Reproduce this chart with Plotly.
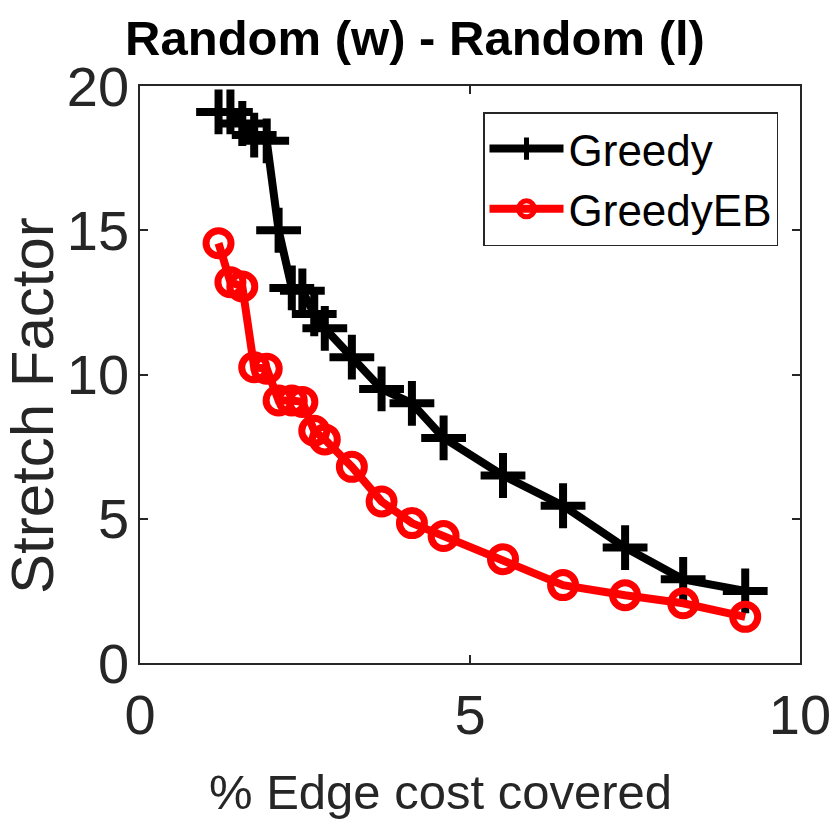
import plotly.graph_objects as go

edge_cost = [1.19, 1.37, 1.55, 1.73, 1.92, 2.10, 2.30, 2.46, 2.64, 2.80, 3.21, 3.66, 4.12, 4.60, 5.50, 6.41, 7.35, 8.23, 9.17]
greedy = [19.1, 19.1, 18.7, 18.3, 18.1, 15.0, 13.0, 12.9, 12.1, 11.6, 10.6, 9.5, 9.0, 7.8, 6.5, 5.45, 4.0, 2.9, 2.5]
greedy_eb = [14.55, 13.2, 13.05, 10.25, 10.2, 9.1, 9.1, 9.05, 8.05, 7.75, 6.8, 5.6, 4.85, 4.4, 3.6, 2.7, 2.35, 2.07, 1.6]
x_ticks = [0, 5, 10]
y_ticks = [0, 5, 10, 15, 20]

FONT = "Liberation Sans, Arial, Helvetica, sans-serif"
AX = "#262626"

fig = go.Figure()
fig.add_trace(go.Scatter(
    x=edge_cost, y=greedy, mode="lines+markers", name="Greedy",
    line=dict(color="black", width=8),
    marker=dict(symbol="cross-thin-open", size=32, line=dict(color="black", width=8)),
))
fig.add_trace(go.Scatter(
    x=edge_cost, y=greedy_eb, mode="lines+markers", name="GreedyEB",
    line=dict(color="red", width=8),
    marker=dict(symbol="circle-open", size=25, line=dict(color="red", width=7)),
))

axis_common = dict(
    showline=True, linecolor=AX, linewidth=1.5, mirror="ticks",
    ticks="inside", ticklen=8, tickwidth=1.5, tickcolor=AX,
    showgrid=False, zeroline=False, ticklabeloverflow="allow", automargin=False,
    tickfont=dict(family=FONT, size=56, color=AX),
)

fig.update_layout(
    width=830, height=830, autosize=False,
    margin=dict(l=140, r=30, t=86, b=167),
    paper_bgcolor="white", plot_bgcolor="white",
    font=dict(family=FONT, color=AX),
    title=dict(text="<b>Random (w) - Random (l)</b>", x=0.5, xref="container", xanchor="center",
               y=1 - 38 / 830, yref="container", yanchor="middle",
               font=dict(family=FONT, size=49, color="black")),
    xaxis=dict(range=[0, 10], tickvals=x_ticks, ticklabelstandoff=2, **axis_common),
    yaxis=dict(range=[0, 20], tickvals=y_ticks, ticklabelstandoff=-2, **axis_common),
    showlegend=True,
    legend=dict(x=(483 - 140) / 660, y=(663 - 112) / 577, xanchor="left", yanchor="top",
                bgcolor="white", bordercolor=AX, borderwidth=1.5,
                font=dict(family=FONT, size=44, color="black"),
                itemwidth=74, tracegroupgap=0),
    annotations=[
        dict(text="% Edge cost covered", xref="paper", yref="paper", x=(440 - 140) / 660,
             y=-(792 - 663) / 577, xanchor="center", yanchor="middle", showarrow=False,
             font=dict(family=FONT, size=49, color=AX)),
        dict(text="Stretch Factor", xref="paper", yref="paper", x=-(140 - 32) / 660,
             y=(663 - 406) / 577, xanchor="center", yanchor="middle", showarrow=False,
             textangle=-90, font=dict(family=FONT, size=60, color=AX)),
    ],
)

fig.write_html("out.html", config={"displayModeBar": False},
               post_script="document.body.style.margin='0';document.body.style.padding='0';")
